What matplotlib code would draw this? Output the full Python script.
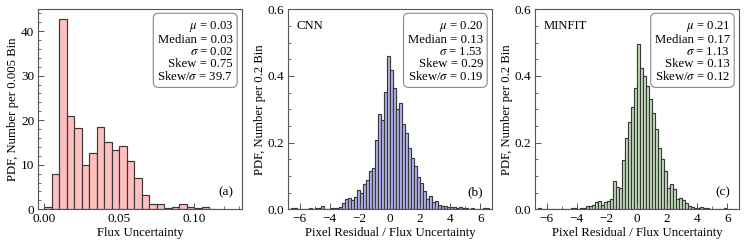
import numpy as np
import matplotlib
matplotlib.use("Agg")
import matplotlib.pyplot as plt
from matplotlib.ticker import MultipleLocator, FormatStrFormatter

plt.rcParams['font.family'] = ['Liberation Serif', 'DejaVu Serif']
plt.rcParams['mathtext.fontset'] = 'stix'

# ---------------- data ----------------
flux_bin_start = 0.0
flux_bin_width = 0.005
flux_pdf = [0.5, 7.9, 42.7, 20.9, 18.2, 9.9, 12.7, 18.5, 15.2, 13.3, 14.3, 10.9,
            7.1, 3.1, 1.1, 1.1, 0.4, 0.6, 1.3, 0.6, 0.2, 0.5, 0.15]

res_bin_start = -6.6
res_bin_width = 0.2
cnn_pdf = [0.003, 0.003, 0.002, 0.0, 0.0, 0.002, 0.003, 0.0, 0.003, 0.004,
           0.011, 0.002, 0.0, 0.003, 0.003, 0.004, 0.008, 0.018, 0.031, 0.035,
           0.028, 0.038, 0.058, 0.048, 0.075, 0.088, 0.116, 0.123, 0.208, 0.285,
           0.268, 0.353, 0.46,
           0.418, 0.365, 0.30, 0.32, 0.255, 0.228, 0.185, 0.155, 0.13, 0.097,
           0.08, 0.055, 0.03, 0.04, 0.022, 0.025, 0.013, 0.011, 0.01, 0.008,
           0.008, 0.006, 0.005, 0.006, 0.004, 0.003, 0.002, 0.004, 0.002, 0.002,
           0.001, 0.003, 0.003]
minfit_pdf = [0.003, 0.0, 0.0, 0.0, 0.0, 0.0, 0.0, 0.0, 0.0, 0.0,
              0.002, 0.003, 0.005, 0.002, 0.003, 0.005, 0.01, 0.011, 0.012, 0.022,
              0.025, 0.012, 0.023, 0.026, 0.031, 0.086, 0.066, 0.063, 0.148, 0.213,
              0.263, 0.308, 0.363,
              0.495, 0.425, 0.40, 0.37, 0.33, 0.29, 0.24, 0.185, 0.15, 0.115,
              0.065, 0.075, 0.06, 0.03, 0.035, 0.028, 0.018, 0.01, 0.008, 0.004,
              0.004, 0.006, 0.004, 0.003, 0.002, 0.0, 0.001, 0.002, 0.0, 0.003,
              0.0, 0.0, 0.0]

stats_a = ["0.03", "0.03", "0.02", "0.75", "39.7"]
stats_b = ["0.20", "0.13", "1.53", "0.29", "0.19"]
stats_c = ["0.21", "0.17", "1.13", "0.13", "0.12"]

panel_names = ["", "CNN", "MINFIT"]
panel_tags = ["(a)", "(b)", "(c)"]
colors = ["#ffbfbf", "#b6b6f2", "#c6e3bf"]
ylabels = ["PDF, Number per 0.005 Bin", "PDF, Number per 0.2 Bin", "PDF, Number per 0.2 Bin"]
xlabels = ["Flux Uncertainty", "Pixel Residual / Flux Uncertainty", "Pixel Residual / Flux Uncertainty"]

# ---------------- figure ----------------
W, H = 7.47, 2.45
fig = plt.figure(figsize=(W, H), dpi=100)
lefts_px = [37.7, 287.7, 534.7]
ax_w_px, ax_h_px = 204.6, 200.0
bottom_px = 245 - 209.3
axes = [fig.add_axes([l / 747, bottom_px / 245, ax_w_px / 747, ax_h_px / 245]) for l in lefts_px]

FS = 9.2
edge = "#383838"

def draw(ax, start, width, vals, color):
    vals = np.asarray(vals)
    centers = start + width * (np.arange(len(vals)) + 0.5)
    ax.bar(centers, vals, width=width, color=color, edgecolor=edge, linewidth=0.85)

draw(axes[0], flux_bin_start, flux_bin_width, flux_pdf, colors[0])
draw(axes[1], res_bin_start, res_bin_width, cnn_pdf, colors[1])
draw(axes[2], res_bin_start, res_bin_width, minfit_pdf, colors[2])

axes[0].set_xlim(-0.0045, 0.132)
axes[0].set_ylim(0, 44.9)
axes[0].xaxis.set_major_locator(MultipleLocator(0.05))
axes[0].xaxis.set_minor_locator(MultipleLocator(0.01))
axes[0].yaxis.set_major_locator(MultipleLocator(10))
axes[0].yaxis.set_minor_locator(MultipleLocator(2))
axes[0].xaxis.set_major_formatter(FormatStrFormatter('%.2f'))

for ax in axes[1:]:
    ax.set_xlim(-6.8, 6.8)
    ax.set_ylim(0, 0.6)
    ax.xaxis.set_major_locator(MultipleLocator(2))
    ax.xaxis.set_minor_locator(MultipleLocator(1))
    ax.yaxis.set_major_locator(MultipleLocator(0.2))
    ax.yaxis.set_minor_locator(MultipleLocator(0.05))
    ax.yaxis.set_major_formatter(FormatStrFormatter('%.1f'))

all_stats = [stats_a, stats_b, stats_c]
for i, ax in enumerate(axes):
    for s in ax.spines.values():
        s.set_color("#555555")
        s.set_linewidth(0.8)
    ax.tick_params(which='both', direction='in', colors="#555555", labelcolor='black',
                   labelsize=FS + 0.3, top=False, right=False, pad=2.5)
    ax.tick_params(which='major', length=4, width=0.7)
    ax.tick_params(which='minor', length=2, width=0.6)
    ax.set_xlabel(xlabels[i], fontsize=FS, labelpad=1.5)
    ax.set_ylabel(ylabels[i], fontsize=FS, labelpad=1.5)
    st = all_stats[i]
    txt = ("$\\mu$ = %s\nMedian = %s\n$\\sigma$ = %s\nSkew = %s\nSkew/$\\sigma$ = %s"
           % tuple(st))
    ax.text(0.955, 0.95, txt, transform=ax.transAxes, ha='right', va='top',
            multialignment='right', fontsize=FS, linespacing=1.0,
            bbox=dict(boxstyle='round,pad=0.32,rounding_size=0.4', fc='white',
                      ec='#888888', lw=0.8))
    ax.text(0.955, 0.085, panel_tags[i], transform=ax.transAxes, ha='right',
            va='center', fontsize=FS + 0.3)
    if panel_names[i]:
        ax.text(0.045, 0.915, panel_names[i], transform=ax.transAxes, ha='left',
                va='center', fontsize=FS)

fig.savefig("out.png", dpi=100)
